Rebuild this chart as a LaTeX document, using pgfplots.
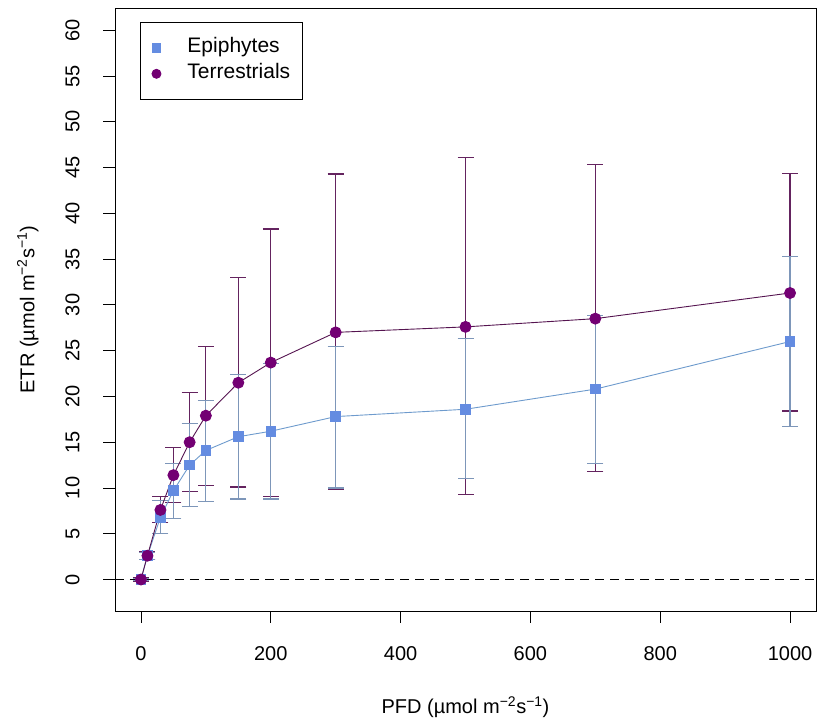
\documentclass[border=0pt]{standalone}
\usepackage{fontspec}
\setmainfont{Liberation Sans}
\usepackage{pgfplots}
\usepackage{pgfplotstable}
\pgfplotsset{compat=1.18}
\definecolor{epimark}{RGB}{100,140,225}
\definecolor{epiline}{RGB}{110,155,205}
\definecolor{epierr}{RGB}{125,150,185}
\definecolor{termark}{RGB}{115,0,115}
\definecolor{terline}{RGB}{85,20,80}
\definecolor{tererr}{RGB}{100,35,95}
\pgfplotstableread{
x y ep em
0 0 0.2 0.2
10 2.6 0.4 0.4
30 7.6 1.5 1.4
50 11.4 3.0 3.0
75 15.0 5.4 5.4
100 17.9 7.6 7.6
150 21.5 11.5 11.4
200 23.7 14.6 14.6
300 27.0 17.3 17.2
500 27.6 18.5 18.3
700 28.5 16.8 16.7
1000 31.3 13.1 12.9
}\terdata
\pgfplotstableread{
x y ep em
0 0 0.1 0.1
10 2.6 0.4 0.4
30 6.8 1.8 1.8
50 9.7 3.0 3.0
75 12.5 4.5 4.5
100 14.1 5.5 5.6
150 15.6 6.8 6.8
200 16.2 7.4 7.4
300 17.8 7.7 7.8
500 18.6 7.7 7.6
700 20.8 8.0 8.1
1000 26.0 9.3 9.3
}\epidata
\begin{document}
\begin{tikzpicture}[font=\fontsize{20bp}{24bp}\selectfont]
\begin{axis}[
  name=ax,
  scale only axis,
  width=701bp, height=603bp,
  xmin=-40, xmax=1040,
  ymin=-3.44, ymax=62.44,
  xtick={0,200,400,600,800,1000},
  ytick={0,5,...,60},
  xtick pos=bottom, ytick pos=left,
  tick align=outside,
  major tick length=12bp,
  axis line style={line width=0.9bp},
  every tick/.style={black, line width=0.9bp},
  /pgf/number format/assume math mode=true,
  /pgf/number format/1000 sep={},
  xticklabel style={font=\fontsize{20bp}{24bp}\selectfont, yshift=-20bp},
  yticklabel style={font=\fontsize{20bp}{24bp}\selectfont, rotate=90, anchor=south, yshift=20bp},
  xlabel={PFD (µmol m\textsuperscript{−2}s\textsuperscript{−1})},
  ylabel={ETR (µmol m\textsuperscript{−2}s\textsuperscript{−1})},
  xlabel style={font=\fontsize{20bp}{24bp}\selectfont, yshift=-29bp},
  ylabel style={font=\fontsize{20bp}{24bp}\selectfont, yshift=20bp},
  legend style={at={(0.0357,0.977)}, anchor=north west, draw=black, line width=0.9bp,
    font=\fontsize{21bp}{25bp}\selectfont, inner xsep=11.5bp, inner ysep=15bp, row sep=5bp,
    column sep=26bp,
    nodes={inner sep=0.5bp, text height=15bp, text depth=5bp},
    cells={anchor=west}},
  legend cell align=left,
  clip=false,
]
\addplot[black, dashed, line width=0.9bp, dash pattern=on 9bp off 6bp, forget plot] coordinates {(-40,0) (1040,0)};
% terrestrial error bars
\addplot[draw=none, mark=none, forget plot,
  error bars/.cd, y dir=both, y explicit, error mark=|,
  error bar style={draw=tererr, line width=1.2bp},
  error mark options={draw=tererr, line width=1.2bp, mark size=8bp}]
  table[x=x, y=y, y error plus=ep, y error minus=em] {\terdata};
% epiphytes
\addplot[epiline, line width=0.9bp, mark=square*, mark size=4.8bp, mark options={fill=epimark, draw=epimark, solid}, forget plot,
  error bars/.cd, y dir=both, y explicit, error mark=|,
  error bar style={epierr, line width=1.1bp},
  error mark options={epierr, line width=1.1bp, mark size=8bp}]
  table[x=x, y=y, y error plus=ep, y error minus=em] {\epidata};
% terrestrial line and points
\addplot[terline, line width=0.9bp, mark=*, mark size=5.5bp, mark options={fill=termark, draw=termark, solid}, forget plot]
  table[x=x, y=y] {\terdata};
\addlegendimage{only marks, mark=square*, mark size=4.2bp, mark options={fill=epimark, draw=epimark}}
\addlegendentry{Epiphytes}
\addlegendimage{only marks, mark=*, mark size=4.5bp, mark options={fill=termark, draw=termark}}
\addlegendentry{Terrestrials}
\end{axis}
\path (ax.south west) ++(-115bp,-106bp) coordinate (bl);
\path (ax.north east) ++(2bp,8bp) coordinate (tr);
\path (bl) rectangle (tr);
\end{tikzpicture}
\end{document}
